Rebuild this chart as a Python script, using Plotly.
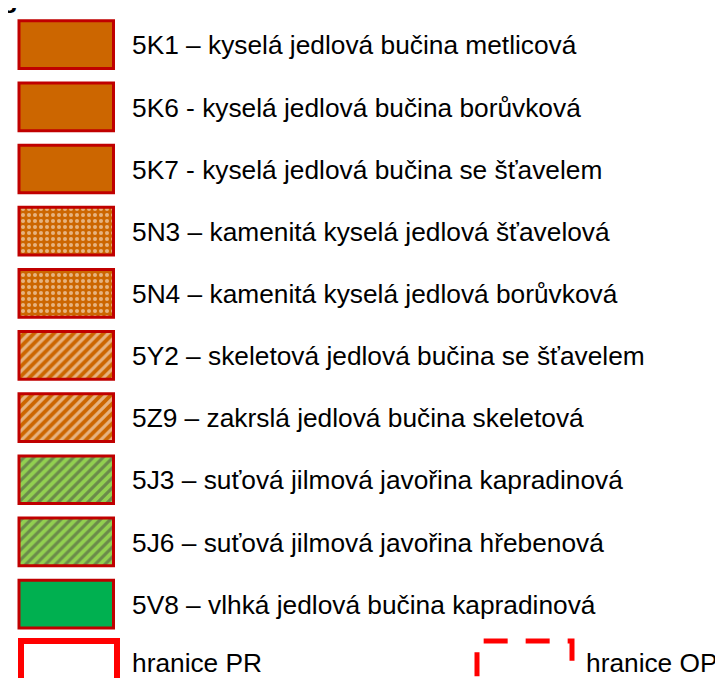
import plotly.graph_objects as go

# ---- data ----
codes = ["5K1", "5K6", "5K7", "5N3", "5N4", "5Y2", "5Z9", "5J3", "5J6", "5V8"]
labels = [
    "5K1 – kyselá jedlová bučina metlicová",
    "5K6 - kyselá jedlová bučina borůvková",
    "5K7 - kyselá jedlová bučina se šťavelem",
    "5N3 – kamenitá kyselá jedlová šťavelová",
    "5N4 – kamenitá kyselá jedlová borůvková",
    "5Y2 – skeletová jedlová bučina se šťavelem",
    "5Z9 – zakrslá jedlová bučina skeletová",
    "5J3 – suťová jilmová javořina kapradinová",
    "5J6 – suťová jilmová javořina hřebenová",
    "5V8 – vlhká jedlová bučina kapradinová",
]
fill_colors = ["#CC6600", "#CC6600", "#CC6600", "#CC6600", "#CC6600",
               "#CC6600", "#CC6600", "#92D050", "#92D050", "#00B050"]
patterns = ["", "", "", ".", ".", "/", "/", "/", "/", ""]
boundary_labels = ["hranice PR", "hranice OP"]

# ---- layout constants (pixels) ----
W, H = 723, 678
ROW0, PITCH = 36.7, 62.15
rows = list(range(len(codes)))
boundary_row = len(codes)

def px_to_row(p):
    return (p - ROW0) / PITCH

sw_left, sw_right = 11, 105.5
sizes = [6 if p == "." else 7 for p in patterns]
solid = [0.36 if p == "." else 0.45 for p in patterns]

fig = go.Figure()

# swatches
fig.add_trace(go.Bar(
    orientation="h",
    y=rows,
    x=[sw_right - sw_left] * len(rows),
    base=[sw_left] * len(rows),
    width=0.7675,
    marker=dict(
        color=fill_colors,
        line=dict(color="#C00000", width=3),
        pattern=dict(
            shape=patterns,
            fgcolor=fill_colors,
            bgcolor=["white" if p else c for p, c in zip(patterns, fill_colors)],
            size=sizes,
            solidity=solid,
        ),
    ),
    hoverinfo="skip",
))

# PR boundary (solid red outline)
fig.add_trace(go.Bar(
    orientation="h",
    y=[boundary_row],
    x=[96],
    base=[13],
    width=0.81,
    marker=dict(color="white", line=dict(color="#FF0000", width=6)),
    hoverinfo="skip",
))

# OP boundary (dashed red outline)
op_l, op_r = 469, 564
op_t, op_b = boundary_row - 0.405, boundary_row + 0.405
fig.add_trace(go.Scatter(
    x=[op_l, op_l, op_r, op_r, op_l],
    y=[op_b, op_t, op_t, op_b, op_b],
    mode="lines",
    line=dict(color="#FF0000", width=5, dash="0px,15px,24px,3px"),
    hoverinfo="skip",
))

font = dict(family="Liberation Sans, Arial, sans-serif", size=26.3, color="black")

# labels
TX = 124
fig.add_trace(go.Scatter(
    x=[TX] * len(labels) + [TX, 578],
    y=[r + 0.05 for r in rows] + [boundary_row - 0.02, boundary_row - 0.02],
    mode="text",
    text=labels + boundary_labels,
    textposition="middle right",
    textfont=font,
    hoverinfo="skip",
))

# cropped title
fig.add_trace(go.Scatter(
    x=[-37], y=[px_to_row(-7)],
    mode="text", text=["<b>Legenda</b>"],
    textposition="middle right",
    textfont=font,
    hoverinfo="skip",
))

fig.update_layout(
    width=W, height=H,
    margin=dict(l=0, r=0, t=0, b=0),
    paper_bgcolor="white", plot_bgcolor="white",
    showlegend=False,
    barmode="overlay",
    xaxis=dict(range=[0, W], visible=False, fixedrange=True),
    yaxis=dict(range=[px_to_row(H), px_to_row(0)], visible=False, fixedrange=True),
)

fig.write_html("out.html")
